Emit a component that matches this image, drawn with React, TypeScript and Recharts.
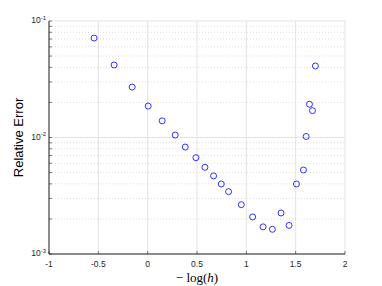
import React from "react";
import { ScatterChart, Scatter, XAxis, YAxis, CartesianGrid, ReferenceLine } from "recharts";

const xValues = [-0.543, -0.34, -0.157, 0.005, 0.147, 0.279, 0.381, 0.489, 0.58, 0.668, 0.746, 0.82, 0.949, 1.064, 1.17, 1.264, 1.352, 1.433, 1.508, 1.579, 1.606, 1.64, 1.67, 1.70];
const yValues = [0.0714, 0.0419, 0.0271, 0.0186, 0.0139, 0.0105, 0.00828, 0.00671, 0.00555, 0.00468, 0.00399, 0.00343, 0.00265, 0.00208, 0.00171, 0.00163, 0.00225, 0.00176, 0.00399, 0.00526, 0.0102, 0.0193, 0.017, 0.0411];
const xTicks = [-1, -0.5, 0, 0.5, 1, 1.5, 2];
const yMajor = [0.001, 0.01, 0.1];
const yMinor = [0.002, 0.003, 0.004, 0.005, 0.006, 0.007, 0.008, 0.009, 0.02, 0.03, 0.04, 0.05, 0.06, 0.07, 0.08, 0.09];
const yExponents = ["-3", "-2", "-1"];

const data = xValues.map((x, i) => ({ x, y: yValues[i] }));
const yAllTicks = [...yMajor, ...yMinor].sort((a, b) => a - b);

const AXIS = "#262626";
const GRID = "#e3e3e3";
const FONT = "'Liberation Sans', Arial, Helvetica, sans-serif";

const YTick = (props: any) => {
  const { x, y, payload } = props;
  const ax = x + 3;
  const idx = yMajor.indexOf(payload.value);
  return (
    <g>
      <line x1={ax} x2={ax + 3} y1={y} y2={y} stroke={AXIS} strokeWidth={0.6} />
      {idx >= 0 && (
        <text x={x} y={y} textAnchor="end" fontFamily={FONT} fontSize={8.5} fill={AXIS} dominantBaseline="middle">
          <tspan>10</tspan>
          <tspan dy={-3.5} fontSize={6}>{yExponents[idx]}</tspan>
        </text>
      )}
    </g>
  );
};

const XTick = (props: any) => {
  const { x, y, payload } = props;
  const ay = y - 8;
  return (
    <g>
      <line x1={x} x2={x} y1={ay} y2={ay - 3} stroke={AXIS} strokeWidth={0.6} />
      <text x={x} y={y + 3} textAnchor="middle" fontFamily={FONT} fontSize={8.5} fill={AXIS} dominantBaseline="middle">
        {payload.value}
      </text>
    </g>
  );
};

const XLabel = (props: any) => {
  const { viewBox } = props;
  const cx = viewBox.x + viewBox.width / 2;
  return (
    <text x={cx} y={viewBox.y + 28} textAnchor="middle" fontFamily="'Liberation Serif', 'Times New Roman', serif" fontSize={13} fill="#000">
      <tspan>− log(</tspan>
      <tspan fontStyle="italic">h</tspan>
      <tspan>)</tspan>
    </text>
  );
};

const YLabel = (props: any) => {
  const { viewBox } = props;
  const cy = viewBox.y + viewBox.height / 2;
  const lx = 20;
  return (
    <text x={lx} y={cy} textAnchor="middle" dominantBaseline="middle" transform={`rotate(-90, ${lx}, ${cy})`} fontFamily={FONT} fontSize={13} fill="#000">
      Relative Error
    </text>
  );
};

const Dot = (props: any) => {
  const { cx, cy } = props;
  return <circle cx={cx} cy={cy} r={3} fill="none" stroke="#0000ff" strokeWidth={0.8} />;
};

export default function App() {
  return (
    <div style={{ position: "absolute", left: 0, top: 0, background: "#fff" }}>
      <ScatterChart width={382} height={286} margin={{ top: 21, right: 37, bottom: 0, left: 0 }}>
        <CartesianGrid horizontal={false} vertical={true} stroke={GRID} strokeWidth={1} />
        {yMinor.map((v) => (
          <ReferenceLine key={"m" + v} y={v} stroke="#d0d0d0" strokeDasharray="1 2" strokeWidth={0.7} />
        ))}
        {yMajor.map((v) => (
          <ReferenceLine key={"M" + v} y={v} stroke={GRID} strokeWidth={1} />
        ))}
        <XAxis
          type="number"
          dataKey="x"
          domain={[-1, 2]}
          ticks={xTicks}
          allowDataOverflow
          height={32}
          tickLine={false}
          tickSize={0}
          tickMargin={8}
          stroke={AXIS}
          tick={<XTick />}
          label={<XLabel />}
        />
        <YAxis
          type="number"
          dataKey="y"
          scale="log"
          domain={[0.001, 0.1]}
          ticks={yAllTicks}
          allowDataOverflow
          width={49}
          tickLine={false}
          tickSize={0}
          tickMargin={3}
          stroke={AXIS}
          tick={<YTick />}
          interval={0}
          label={<YLabel />}
        />
        <Scatter data={data} isAnimationActive={false} shape={<Dot />} />
      </ScatterChart>
    </div>
  );
}
